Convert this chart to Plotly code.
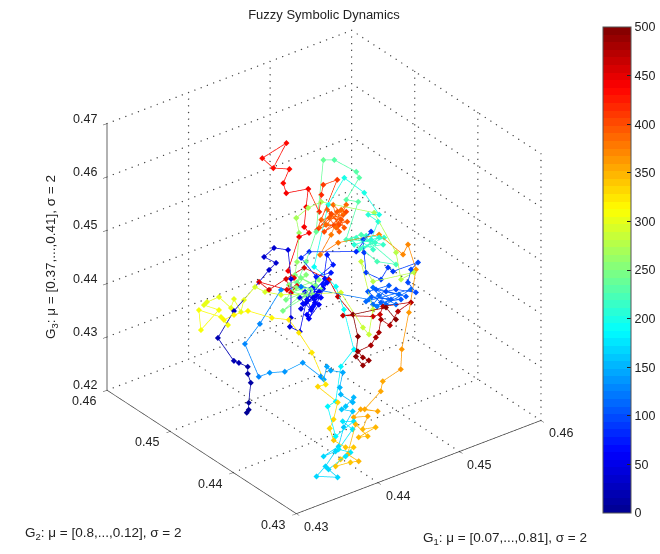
import numpy as np
import plotly.graph_objects as go

ticks_xy = [0.43, 0.44, 0.45, 0.46]
ticks_z = [0.42, 0.43, 0.44, 0.45, 0.46, 0.47]
colorbar_ticks = [0, 50, 100, 150, 200, 250, 300, 350, 400, 450, 500]

# Trajectory values, in units of 1e-5
g1_e5 = [
 43167,43197,43233,43352,43377,43413,43370,43345,43350,43605,43879,44068,44154,44100,44218,44307,44178,43975,43921,43966,
 44160,44236,44093,44310,44105,44224,44354,44143,44159,44210,44242,44098,44414,44268,44133,44293,44281,44183,44420,44189,44367,44494,44375,44559,44550,44368,44358,44447,
 44782,44993,44894,44834,44744,44814,44927,44942,45167,45080,44991,
 44996,44869,44788,44904,44727,44782,44649,44853,44695,44659,44840,44627,44791,44717,44593,44976,44720,44716,44865,44645,44625,
 44208,44049,43723,43512,43440,43539,43651,43826,43882,43888,43977,43984,44060,43960,43931,43975,44008,43904,43860,43928,
 43781,43646,43487,43599,43449,43333,43501,43455,43644,43700,43631,43834,43805,43883,43677,43776,43859,44077,44258,44394,44457,44444,44404,
 44827,45081,45146,45138,45060,45095,
 44951,44804,45019,44852,45011,44855,44913,44936,45054,44814,44964,44809,44879,44999,44906,44773,
 45056,44981,45188,45198,45103,45025,44601,44373,44200,44263,44033,44254,44320,44117,44203,43954,44372,44167,44306,44132,44251,44136,44335,44227,44309,
 44474,44531,44668,44792,45113,45062,44957,45086,44747,44765,44601,44443,44436,44461,
 44023,43925,43879,43733,43650,43667,43599,43571,43459,43422,43503,43271,43360,43481,43489,43487,43584,43705,43839,43950,43954,43943,
 43876,43809,43868,43751,43676,43642,43691,43748,43593,43521,43648,43757,43669,
 43882,43905,43836,44009,43906,44009,43904,43995,44106,44024,44232,44298,44489,44600,44842,45116,45189,45101,45034,44700,44509,44692,
 44893,44708,44955,44764,44699,44881,44862,44765,44766,44874,44643,44854,44821,44793,44841,44760,44658,44919,44801,44801,
 44618,45021,44895,44829,44726,44767,44589,44620,44736,44627,44600,44850,44627,44736,44620,44589,44767,44659,44541,44545,44453,
 44198,44204,44142,44105,44184,44092,43934,43964,44142,44328,44444,
 44419,44433,44356,44565,44625,44688,44909,44769,44639,44606,44524,44477,44400,44276,44280,44307,44239,44236,44354,44433,44704,44713]
g2_e5 = [
 44021,44028,44075,44197,44277,44325,44410,44457,44717,44793,44817,44840,44841,44961,44956,44850,44635,44373,44319,44219,
 44375,44363,44368,44364,44288,44316,44358,44448,44295,44456,44277,44248,44372,44357,44388,44311,44437,44389,44413,44303,44485,44414,44385,44561,44454,44472,44711,44699,
 44391,44428,44426,44332,44184,44039,44074,44014,43911,43909,43842,
 43722,43873,43925,43760,44004,43838,43983,43773,43884,44043,43946,43923,43772,43944,43989,43775,43838,44037,43820,43883,43983,
 44516,44627,44536,44499,44185,44140,44048,43991,43779,43739,43807,43754,43661,43580,43526,43394,43421,43413,43419,43333,
 43284,43189,43220,43175,43140,43131,43017,43100,43076,43070,43169,43212,43331,43259,43276,43531,43512,43715,43744,44079,44287,44380,44565,
 44891,44968,44736,44490,44562,44449,
 44374,44451,44335,44372,44261,44485,44293,44433,44302,44385,44327,44505,44186,44041,44473,44538,
 44715,44807,44870,44930,45155,45227,44788,44652,44569,44430,44527,44577,44424,44541,44416,44472,44445,44542,44564,44608,44383,44455,44365,44636,44711,
 44893,45013,45002,44957,44536,44122,43908,43870,44078,44291,43889,43747,43833,44213,
 44593,44718,44817,44802,44741,44874,44833,44986,45031,45031,44899,44882,45030,44838,44739,44798,44767,44702,44497,44372,44219,43999,
 43692,43731,43492,43404,43369,43262,43137,43084,43089,43074,43003,43017,43076,
 43226,43066,43119,43075,43146,43201,43286,43294,43169,43268,43284,43339,43301,43430,43633,43877,44098,44063,44355,44570,44607,44670,
 44772,44770,44773,44684,44836,44726,44858,44637,44797,44652,44795,44785,44631,44864,44705,44710,44736,44726,44684,44811,
 44795,45001,45059,45004,44903,45130,45247,45334,45389,45501,45640,45584,45501,45389,45334,45247,45130,45022,44900,44827,44866,
 44709,44622,44668,44541,44549,44588,44825,44706,44668,44624,44380,
 44206,43986,44045,43842,43809,43844,43687,43712,43670,43769,43695,43681,43660,43705,43631,43572,43577,43684,43806,43986,43817,43671]
g3_e5 = [
 42990,43021,43091,43291,43379,43449,43484,43502,43723,43999,44248,44424,44497,44551,44645,44632,44345,43957,43867,43822,
 44113,44166,44051,44229,43994,44118,44261,44160,44046,44222,44100,43956,44322,44188,44102,44170,44265,44144,44361,44077,44377,44424,44301,44601,44504,44367,44559,44622,
 44645,44851,44768,44639,44441,44378,44501,44464,44565,44492,44361,
 44266,44286,44261,44221,44276,44184,44194,44189,44149,44252,44322,44125,44137,44218,44152,44293,44132,44295,44238,44108,44173,
 44270,44231,43882,43676,43354,43399,43417,43515,43384,43356,43487,43449,43435,43284,43215,43141,43191,43098,43066,43051,
 42888,42696,42590,42645,42491,42387,42350,42463,42600,42642,42666,42872,42947,42952,42794,43089,43143,43493,43669,44062,44287,44353,44475,
 45099,45375,45236,45024,45019,44954,
 44771,44713,44795,44688,44727,44784,44673,44809,44797,44666,44743,44762,44555,44535,44816,44759,
 45143,45157,45383,45441,45550,45544,44825,44521,44308,44245,44134,44360,44287,44216,44183,44023,44348,44258,44392,44284,44196,44160,44250,44387,44517,
 44806,44954,45060,45125,45041,44654,44388,44464,44354,44548,44076,43825,43892,44230,
 44181,44203,44248,44113,43992,44118,44027,44131,44076,44044,44002,43794,43992,43933,43857,43905,43959,44006,43948,43936,43811,43619,
 43307,43283,43134,42963,42871,42754,42690,42694,42568,42496,42543,42482,42621,
 42923,42810,42795,42903,42877,43009,42992,43075,43063,43077,43264,43364,43492,43692,44063,44494,44739,44637,44825,44726,44598,44802,
 45055,44899,45108,44874,44946,45007,45101,44836,44970,44939,44866,45034,44878,45049,44956,44893,44828,45038,44905,45011,
 44845,45352,45296,45195,45025,45249,45198,45296,45438,45441,45535,45696,45441,45438,45296,45198,45249,45068,44868,44811,44767,
 44423,44356,44342,44206,44278,44234,44300,44225,44342,44461,44353,
 44188,44016,44002,44006,44029,44110,44164,44068,43925,43980,43850,43799,43717,43651,43593,43566,43514,43600,43800,44016,44102,43987]
t = [
 0,3,6,9,12,15,18,20,23,26,29,32,34,36,38,40,42,44,46,48,
 50,52,53,54,55,56,57,58,59,60,61,62,63,64,65,66,67,68,69,70,71,72,73,75,76,78,80,82,
 85,87,88,89,90,91,92,93,95,96,97,
 99,100,101,102,103,104,105,106,107,108,109,110,111,112,113,114,115,116,117,118,120,
 123,125,127,129,131,133,135,137,139,141,143,145,147,149,151,153,155,157,158,160,
 163,165,166,167,168,169,170,171,172,173,174,176,178,179,180,182,183,185,187,190,192,193,195,
 197,199,201,203,205,207,
 208,209,210,211,212,213,214,215,216,217,218,219,221,223,224,225,
 228,229,231,232,234,236,238,240,242,243,244,245,246,247,248,249,250,251,252,253,254,255,256,257,261,
 264,266,268,270,272,274,276,278,281,282,285,287,288,290,
 293,295,296,298,299,300,301,302,303,304,305,307,308,310,312,313,316,318,320,322,323,325,
 328,329,331,333,335,337,339,340,341,342,343,344,345,
 347,348,349,350,351,352,353,354,355,356,357,358,360,362,365,367,369,371,373,377,379,381,
 383,385,386,387,388,389,390,391,392,393,394,395,396,397,398,399,400,401,402,403,
 410,412,414,416,418,420,422,424,426,428,430,432,434,436,437,438,439,440,441,442,443,
 445,446,447,448,449,450,452,454,455,457,459,
 462,464,465,467,468,470,472,474,476,478,480,482,484,486,488,490,492,494,496,497,498,500]

# The readings were taken against a first estimate of the axes; refine them to the measured box.
g1 = [(a + 12.3 + .0082 * (a - 43000)) / 1e5 for a in g1_e5]
g2 = [v / 1e5 for v in g2_e5]
g3 = [(c + .0187 * (c - 42000) + .0622 * (a - 43000) - 19) / 1e5 for a, c in zip(g1_e5, g3_e5)]

FONT = "Liberation Sans"
INK = "#222222"

# MATLAB-style jet, 64 flat levels
def jet_level(f):
    anchors = [0, .125, .375, .625, .875, 1]
    r = [0, 0, 0, 1, 1, .5]
    g = [0, 0, 1, 1, 0, 0]
    b = [.56, 1, 1, 0, 0, 0]
    for i in range(5):
        if f <= anchors[i + 1]:
            u = (f - anchors[i]) / (anchors[i + 1] - anchors[i])
            return "rgb(%d,%d,%d)" % tuple(round(255 * (c[i] + u * (c[i + 1] - c[i]))) for c in (r, g, b))
    return "rgb(128,0,0)"
JET = []
for i in range(64):
    col = jet_level((i + .5) / 64)
    JET += [[i / 64, col], [(i + 1) / 64, col]]

fig = go.Figure()

# Dotted grid on the floor and the two back walls
gx, gy, gz = [], [], []
def grid(a, b, n):
    gx.extend(np.linspace(a[0], b[0], n)); gy.extend(np.linspace(a[1], b[1], n)); gz.extend(np.linspace(a[2], b[2], n))
for v in ticks_xy[1:]:
    grid((v, 0.43, 0.42), (v, 0.46, 0.42), 35)
    grid((0.43, v, 0.42), (0.46, v, 0.42), 40)
    grid((v, 0.46, 0.42), (v, 0.46, 0.47), 41)
for v in ticks_xy:
    grid((0.46, v, 0.42), (0.46, v, 0.47), 41)
for v in ticks_z:
    grid((0.43, 0.46, v), (0.46, 0.46, v), 40)
    grid((0.46, 0.43, v), (0.46, 0.46, v), 35)
fig.add_trace(go.Scatter3d(x=gx, y=gy, z=gz, mode="markers", showlegend=False, hoverinfo="skip",
                           marker=dict(size=0.8, color="#444444", symbol="circle", line=dict(width=0))))

fig.add_trace(go.Scatter3d(x=g1, y=g2, z=g3, mode="lines+markers", showlegend=False,
    line=dict(color=t, colorscale=JET, cmin=0, cmax=500, width=1.5),
    marker=dict(size=2, color=t, colorscale=JET, cmin=0, cmax=500, symbol="diamond",
                colorbar=dict(x=603/660, xanchor="left", xpad=0, y=1-270/554, yanchor="middle", ypad=0, len=486, lenmode="pixels",
                              thickness=28, thicknessmode="pixels", tickvals=colorbar_ticks,
                              ticks="inside", ticklen=4, tickcolor="#222", outlinecolor="#555", outlinewidth=1,
                              tickfont=dict(family=FONT, size=12.5, color=INK)))))

ax = dict(showbackground=False, showgrid=False, zeroline=False, showline=True, linecolor="#333", linewidth=1.5,
          ticks="outside", ticklen=5, tickcolor="#333", showspikes=False, title=dict(text=""), showticklabels=False)

def tick_note(x, y, z, text, dx, dy):
    return dict(x=x, y=y, z=z, text=text, showarrow=False, xanchor="center", yanchor="middle", xshift=dx, yshift=-dy,
                font=dict(family=FONT, size=12.5, color=INK))
notes = []
for v in ticks_xy:
    notes.append(tick_note(v, 0.43, 0.42, "%.2f" % v, 20, 13))
    notes.append(tick_note(0.43, v, 0.42, "%.2f" % v, -23, 11))
for v in ticks_z:
    notes.append(tick_note(0.43, 0.46, min(v, 0.46999), "%.2f" % v, -22, -5))

norm = 2.0
fig.update_layout(
    width=660, height=554, margin=dict(l=0, r=0, t=0, b=0, autoexpand=False), paper_bgcolor="white",
    title=dict(text="Fuzzy Symbolic Dynamics", x=324/660, xanchor="center", y=1-14/554, yanchor="middle",
               font=dict(family=FONT, size=13, color=INK)),
    scene=dict(domain=dict(x=[0, 648/660], y=[1-544/554, 1]),
        xaxis=dict(ax, range=[0.43, 0.46], tickvals=ticks_xy),
        yaxis=dict(ax, range=[0.43, 0.46], tickvals=ticks_xy),
        zaxis=dict(ax, range=[0.42, 0.47], tickvals=ticks_z),
        aspectmode="manual", aspectratio=dict(x=1.132, y=1.146, z=1.131),
        annotations=notes,
        camera=dict(projection=dict(type="orthographic"), up=dict(x=0, y=0, z=1), center=dict(x=0, y=0, z=0),
                    eye=dict(x=-.5266*norm, y=-.6887*norm, z=.4987*norm))),
    annotations=[
        dict(text="G<sub>1</sub>: μ = [0.07,...,0.81], σ = 2", x=505/660, y=1-538/554, xref="paper", yref="paper", xanchor="center", yanchor="middle", showarrow=False, font=dict(family=FONT, size=13.5, color=INK)),
        dict(text="G<sub>2</sub>: μ = [0.8,...,0.12], σ = 2", x=103/660, y=1-533/554, xref="paper", yref="paper", xanchor="center", yanchor="middle", showarrow=False, font=dict(family=FONT, size=13.5, color=INK)),
        dict(text="G<sub>3</sub>: μ = [0.37,...,0.41], σ = 2", x=52/660, y=1-257/554, xref="paper", yref="paper", xanchor="center", yanchor="middle", showarrow=False, textangle=-90, font=dict(family=FONT, size=13.5, color=INK)),
    ])
fig.write_html("out.html", config=dict(displayModeBar=False),
               post_script="document.body.style.margin='0';document.documentElement.style.overflow='hidden';")
